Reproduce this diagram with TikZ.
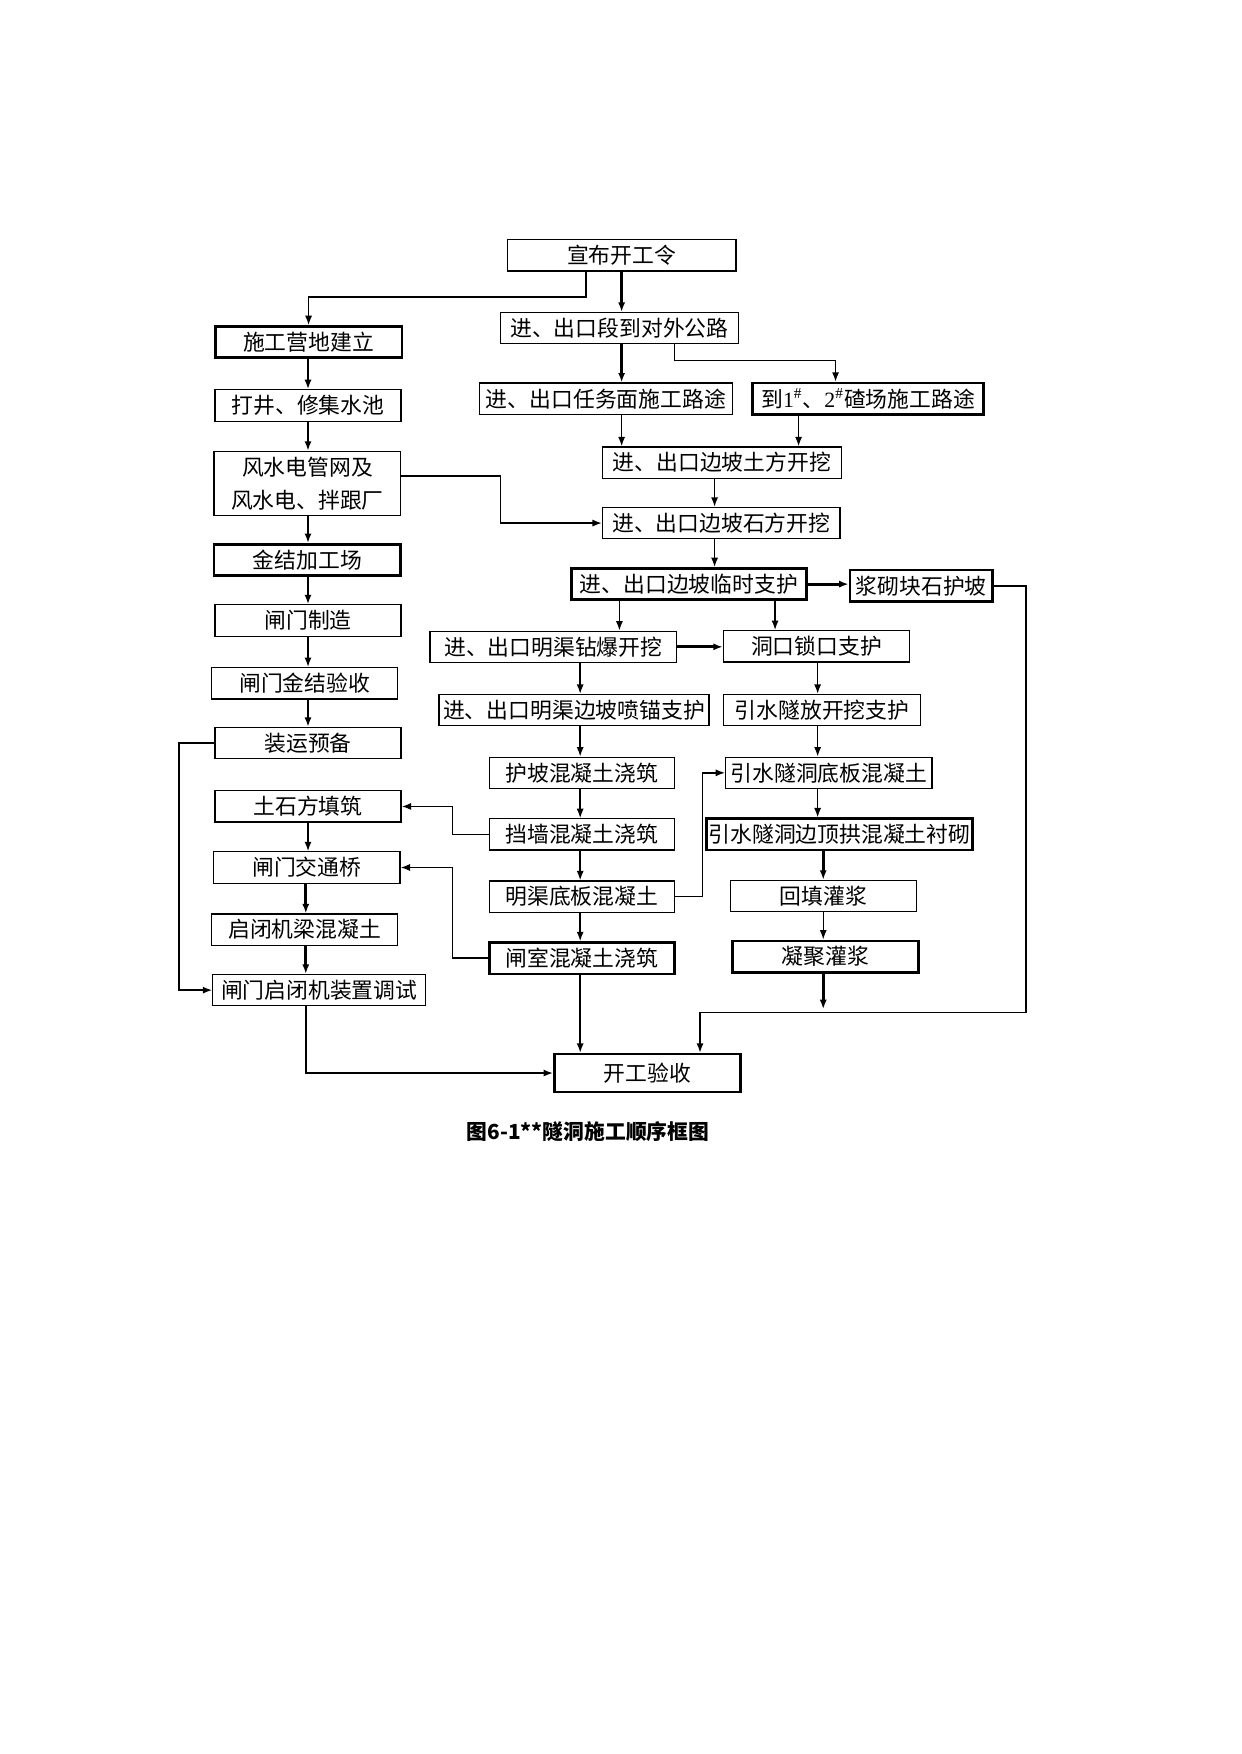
\documentclass[tikz,border=0pt]{standalone}
\usepackage{fontspec}
\setmainfont{Noto Sans CJK SC}
\newfontfamily\tnr{Liberation Serif}
\usetikzlibrary{arrows.meta}

\begin{document}
\begin{tikzpicture}[x=0.01895cm, y=-0.01895cm,
	blk/.style={draw, line width=0.6pt, minimum height=0.53cm, inner sep=1pt, font=\fontsize{10.5}{16}\selectfont},
	blkb/.style={blk, line width=1.3pt},
	ar/.style={-{Latex[length=1.6mm,width=1.2mm]}, line width=0.7pt},
	arb/.style={ar, line width=1.4pt}]
\useasboundingbox (0,0) rectangle (1108,1566);

\node[blk, minimum width=3.87cm] (kg) at (555,228) {宣布开工令};
\node[blk, minimum width=4.02cm] (lu) at (553,293) {进、出口段到对外公路};

\node[blkb, minimum width=3.16cm] (yd) at (275.5,305.5) {施工营地建立};
\node[blk, minimum width=3.15cm] (dj) at (275,362) {打井、修集水池};
\node[blk, minimum width=3.16cm, minimum height=1.08cm, align=center] (fd) at (274.5,431.5) {风水电管网及\\风水电、拌跟厂};
\node[blkb, minimum width=3.16cm] (jg) at (274.5,500) {金结加工场};
\node[blk, minimum width=3.15cm] (zz) at (275,554) {闸门制造};
\node[blk, minimum width=3.15cm] (ys1) at (272,610) {闸门金结验收};
\node[blk, minimum width=3.15cm] (zy) at (275,663.5) {装运预备};
\node[blk, minimum width=3.15cm] (ts) at (275,720) {土石方填筑};
\node[blk, minimum width=3.15cm] (jt) at (274,774.5) {闸门交通桥};
\node[blk, minimum width=3.15cm] (lh) at (272,830) {启闭机梁混凝土};
\node[blk, minimum width=3.60cm] (tiao) at (285,884) {闸门启闭机装置调试};

\node[blk, minimum width=4.28cm] (rw) at (541,356) {进、出口任务面施工路途};
\node[blkb, minimum width=3.90cm] (zc) at (775,356) {到{\tnr 1\textsuperscript{\#}}、{\tnr 2\textsuperscript{\#}}碴场施工路途};
\node[blk, minimum width=4.04cm] (tf) at (644.5,413) {进、出口边坡土方开挖};
\node[blk, minimum width=4.02cm] (sf) at (644,467) {进、出口边坡石方开挖};
\node[blkb, minimum width=3.98cm] (ls) at (615,521.5) {进、出口边坡临时支护};
\node[blkb, minimum width=2.41cm] (jq) at (822.5,523) {浆砌块石护坡};
\node[blk, minimum width=4.17cm] (zb) at (494,577.5) {进、出口明渠钻爆开挖};
\node[blk, minimum width=3.15cm] (sk) at (729,577) {洞口锁口支护};
\node[blk, minimum width=4.57cm] (pm) at (512.5,634) {进、出口明渠边坡喷锚支护};
\node[blk, minimum width=3.34cm] (kw) at (734,634) {引水隧放开挖支护};
\node[blk, minimum width=3.13cm] (hp) at (519.5,690) {护坡混凝土浇筑};
\node[blk, minimum width=3.49cm] (db) at (740,690) {引水隧洞底板混凝土};
\node[blk, minimum width=3.13cm] (dq) at (519.5,745) {挡墙混凝土浇筑};
\node[blkb, minimum width=4.42cm] (cq) at (749.5,745) {引水隧洞边顶拱混凝土衬砌};
\node[blk, minimum width=3.13cm] (mq) at (519.5,800.5) {明渠底板混凝土};
\node[blk, minimum width=3.15cm] (ht) at (735,800) {回填灌浆};
\node[blkb, minimum width=3.13cm] (zs) at (519.5,855.5) {闸室混凝土浇筑};
\node[blkb, minimum width=3.15cm] (nj) at (737,854) {凝聚灌浆};

\node[blkb, minimum width=3.15cm, minimum height=0.64cm] (ysh) at (578,958) {开工验收};
\node[font=\fontsize{10}{12}\selectfont\bfseries] (cap) at (525,1010) {图6-1**隧洞施工顺序框图};

\coordinate (b1) at (523,265);
\coordinate (b2) at (602,322);
\coordinate (b3) at (746,322);
\coordinate (w1) at (447,425);
\coordinate (xs) at (713,0);
\coordinate (xt) at (555,0);
\coordinate (xr) at (638,0);
\coordinate (xd) at (553,0);
\coordinate (xl) at (692,0);
\coordinate (xc) at (518,0);
\coordinate (xk) at (730,0);
\coordinate (xg) at (735,0);
\coordinate (xL) at (275,0);
\coordinate (xM) at (273,0);
\coordinate (xf) at (404,0);
\coordinate (xq) at (627,0);
\coordinate (xp) at (160,0);
\coordinate (e1) at (735,901);
\coordinate (j1) at (625,904);
\coordinate (j2) at (916,904);

\draw[arb] (kg.south) -- (kg.south |- lu.north);
\draw[ar] (kg.south -| b1) -- (b1) -| (yd.north);
\draw[arb] (lu.south -| xt) -- (rw.north -| xt);
\draw[ar] (lu.south -| b2) -- (b2) -- (b3) -- (zc.north -| b3);
\draw[ar] (rw.south -| xt) -- (tf.north -| xt);
\draw[ar] (zc.south -| xs) -- (tf.north -| xs);
\draw[ar] (tf.south -| xr) -- (sf.north -| xr);
\draw[ar] (fd.east |- w1) -- (w1) |- (sf.west);
\draw[ar] (sf.south -| xr) -- (ls.north -| xr);
\draw[arb] (ls.east) -- (ls.east -| jq.west);
\draw[ar] (ls.south -| xd) -- (zb.north -| xd);
\draw[ar] (ls.south -| xl) -- (sk.north -| xl);
\draw[arb] (zb.east) -- (zb.east -| sk.west);
\draw[ar] (zb.south -| xc) -- (pm.north -| xc);
\draw[ar] (sk.south -| xk) -- (kw.north -| xk);
\draw[ar] (pm.south -| xc) -- (hp.north -| xc);
\draw[ar] (kw.south -| xk) -- (db.north -| xk);
\draw[ar] (hp.south -| xc) -- (dq.north -| xc);
\draw[ar] (db.south -| xk) -- (cq.north -| xk);
\draw[ar] (dq.south -| xc) -- (mq.north -| xc);
\draw[arb] (cq.south -| xg) -- (ht.north -| xg);
\draw[ar] (mq.south -| xc) -- (zs.north -| xc);
\draw[ar] (ht.south -| xg) -- (nj.north -| xg);
\draw[ar] (zs.south -| xc) -- (ysh.north -| xc);
\draw[arb] (nj.south -| e1) -- (e1);
\draw[ar] (jq.east) -- (jq.east -| j2) -- (j2) -- (j1) -- (ysh.north -| j1);
\draw[ar] (dq.west) -- (dq.west -| xf) |- (ts.east);
\draw[ar] (zs.west) -- (zs.west -| xf) |- (jt.east);
\draw[ar] (mq.east) -- (mq.east -| xq) |- (db.west);

\draw[arb] (yd.south -| xL) -- (dj.north -| xL);
\draw[arb] (dj.south -| xL) -- (fd.north -| xL);
\draw[arb] (fd.south -| xL) -- (jg.north -| xL);
\draw[arb] (jg.south -| xL) -- (zz.north -| xL);
\draw[ar] (zz.south -| xL) -- (ys1.north -| xL);
\draw[arb] (ys1.south -| xL) -- (zy.north -| xL);
\draw[ar] (zy.west) -- (zy.west -| xp) |- (tiao.west);
\draw[ar] (ts.south -| xL) -- (jt.north -| xL);
\draw[arb] (jt.south -| xM) -- (lh.north -| xM);
\draw[arb] (lh.south -| xM) -- (tiao.north -| xM);
\draw[ar] (tiao.south -| xM) |- (ysh.west);
\end{tikzpicture}
\end{document}
